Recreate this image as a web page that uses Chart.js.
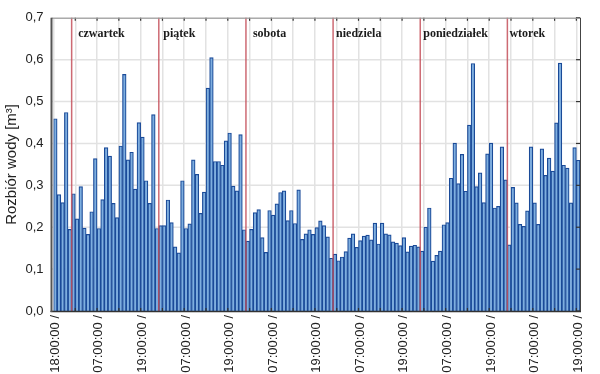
<!DOCTYPE html>
<html><head><meta charset="utf-8">
<script src="https://cdn.jsdelivr.net/npm/chart.js@4.4.0/dist/chart.umd.min.js"></script>
<style>html,body{margin:0;padding:0;background:#fff;}canvas{display:block;}</style>
</head><body>
<canvas id="c" width="600" height="374"></canvas>
<script>
// hourly water use [m3], one value per bar
const values = [
  0.459,0.278,0.259,0.474,0.195,0.280,0.220,0.297,0.198,0.183,0.237,0.364,
  0.197,0.266,0.390,0.370,0.257,0.223,0.394,0.565,0.361,0.379,0.291,0.450,
  0.415,0.311,0.257,0.469,0.197,0.204,0.204,0.265,0.211,0.153,0.139,0.311,
  0.197,0.208,0.361,0.326,0.233,0.284,0.532,0.605,0.357,0.357,0.348,0.406,
  0.425,0.298,0.287,0.421,0.194,0.167,0.195,0.235,0.242,0.175,0.140,0.240,
  0.229,0.256,0.283,0.287,0.216,0.240,0.209,0.289,0.171,0.184,0.194,0.183,
  0.199,0.215,0.204,0.177,0.126,0.136,0.120,0.129,0.142,0.174,0.184,0.152,
  0.168,0.179,0.181,0.170,0.210,0.160,0.210,0.184,0.182,0.165,0.162,0.156,
  0.175,0.141,0.155,0.157,0.153,0.143,0.200,0.246,0.119,0.133,0.143,0.206,
  0.211,0.317,0.401,0.304,0.374,0.286,0.444,0.591,0.297,0.330,0.259,0.375,
  0.401,0.246,0.250,0.392,0.313,0.158,0.295,0.258,0.207,0.202,0.239,0.392,
  0.258,0.207,0.387,0.324,0.365,0.334,0.449,0.592,0.348,0.341,0.258,0.390,
  0.360
];
const tickLabels = ['18:00:00 /','07:00:00 /','19:00:00 /','07:00:00 /','19:00:00 /','07:00:00 /','19:00:00 /','07:00:00 /','19:00:00 /','07:00:00 /','19:00:00 /','07:00:00 /','19:00:00 /'];
const labelEvery = 12;
const gridEvery = 6;
const dayNames = ['czwartek','piątek','sobota','niedziela','poniedziałek','wtorek'];
const dayStartIndex = [5, 29, 53, 77, 101, 125];
const yTitle = 'Rozbiór wody [m³]';

const categories = values.map((_, i) => (i % labelEvery === 0 ? tickLabels[i / labelEvery] : ''));

const FONT = 'Liberation Sans';

const framePlugin = {
  id: 'frame',
  beforeDatasetsDraw(chart) {
    const {ctx, chartArea: a, scales: {y}} = chart;
    ctx.save();
    ctx.strokeStyle = '#e2e2e2';
    ctx.lineWidth = 1.5;
    y.ticks.forEach(t => {
      const py = y.getPixelForValue(t.value);
      ctx.beginPath(); ctx.moveTo(a.left - 2, py); ctx.lineTo(a.right, py); ctx.stroke();
    });
    ctx.restore();
  },
  afterDatasetsDraw(chart) {
    const {ctx, chartArea: a, scales: {x}} = chart;
    const w = x.getPixelForValue(1) - x.getPixelForValue(0);
    const offs = [6.5, 4.5, 7, 3, 3, 2];
    ctx.save();
    dayStartIndex.forEach((idx, k) => {
      const px = x.getPixelForValue(idx) - w / 2;
      ctx.strokeStyle = 'rgba(196,80,90,0.85)';
      ctx.lineWidth = 1.5;
      ctx.beginPath(); ctx.moveTo(px, a.top); ctx.lineTo(px, a.bottom); ctx.stroke();
      ctx.fillStyle = '#1a1a1a';
      ctx.font = 'bold 12px "Liberation Serif"';
      ctx.textBaseline = 'alphabetic';
      ctx.textAlign = 'left';
      ctx.fillText(dayNames[k], px + offs[k], 37);
    });
    ctx.restore();
  },
  afterDraw(chart) {
    const {ctx, chartArea: a, scales: {x, y}} = chart;
    const w = x.getPixelForValue(1) - x.getPixelForValue(0);
    ctx.save();
    ctx.strokeStyle = '#333';
    ctx.lineWidth = 1.2;
    for (let i = gridEvery; i < values.length; i += gridEvery) {
      const px = x.getPixelForValue(i) - w / 2;
      ctx.beginPath(); ctx.moveTo(px, a.top); ctx.lineTo(px, a.top + 3); ctx.stroke();
      ctx.beginPath(); ctx.moveTo(px, a.bottom); ctx.lineTo(px, a.bottom - 3); ctx.stroke();
    }
    y.ticks.forEach(t => {
      const py = y.getPixelForValue(t.value);
      ctx.beginPath(); ctx.moveTo(a.right, py); ctx.lineTo(a.right - 4, py); ctx.stroke();
    });
    ctx.strokeStyle = '#999';
    ctx.lineWidth = 1;
    ctx.beginPath(); ctx.moveTo(a.left - 2, a.top + 0.5); ctx.lineTo(a.right + 1, a.top + 0.5); ctx.stroke();
    ctx.strokeStyle = '#444';
    ctx.beginPath(); ctx.moveTo(a.right + 0.5, a.top); ctx.lineTo(a.right + 0.5, a.bottom); ctx.stroke();
    ctx.strokeStyle = '#333';
    ctx.lineWidth = 1.5;
    ctx.beginPath(); ctx.moveTo(a.left - 3, a.bottom + 0.5); ctx.lineTo(a.right + 1, a.bottom + 0.5); ctx.stroke();
    ctx.strokeStyle = '#555';
    ctx.lineWidth = 2;
    ctx.beginPath(); ctx.moveTo(a.left - 2, a.top); ctx.lineTo(a.left - 2, a.bottom + 1); ctx.stroke();
    ctx.restore();
  }
};

new Chart(document.getElementById('c'), {
  type: 'bar',
  data: {
    labels: categories,
    datasets: [{
      data: values,
      backgroundColor: '#7eaedf',
      borderColor: '#1a4a98',
      borderWidth: 1.2,
      borderSkipped: 'start',
      categoryPercentage: 1,
      barPercentage: 1
    }]
  },
  options: {
    responsive: false,
    animation: false,
    devicePixelRatio: 1,
    layout: { padding: { left: 0, right: 20, top: 10, bottom: 0 } },
    plugins: { legend: { display: false }, tooltip: { enabled: false } },
    scales: {
      x: {
        offset: true,
        grid: {
          offset: true,
          drawTicks: false,
          lineWidth: 1.5,
          color: ctx => (ctx.index % gridEvery === 0 ? '#e2e2e2' : 'rgba(0,0,0,0)')
        },
        border: { display: false },
        ticks: {
          autoSkip: false,
          maxRotation: 90,
          minRotation: 90,
          padding: 4,
          color: '#222',
          font: { family: FONT, size: 13 },
          callback: (v, i) => categories[i]
        },
        afterFit: s => { s.height = 63; }
      },
      y: {
        min: 0,
        max: 0.7,
        grid: { display: false, drawTicks: false },
        border: { display: false },
        ticks: {
          stepSize: 0.1,
          padding: 10,
          color: '#222',
          font: { family: FONT, size: 13 },
          callback: v => v.toFixed(1).replace('.', ',')
        },
        title: {
          display: true,
          text: yTitle,
          color: '#222',
          font: { family: FONT, size: 15 },
          padding: { top: 3, bottom: 0 }
        },
        afterFit: s => { s.width = 53.5; }
      }
    }
  },
  plugins: [framePlugin]
});
</script>
</body></html>
